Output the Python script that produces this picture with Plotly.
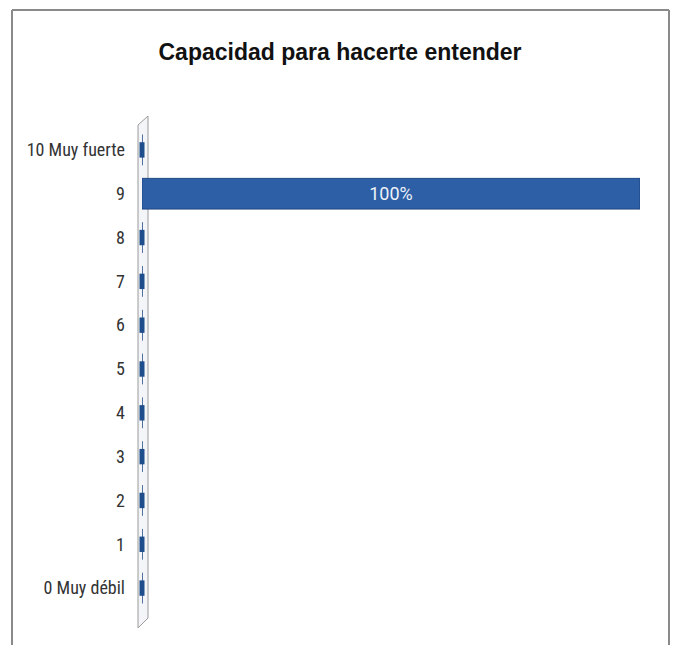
import plotly.graph_objects as go

categories = ["0 Muy débil", "1", "2", "3", "4", "5", "6", "7", "8", "9", "10 Muy fuerte"]
shares = [0, 0, 0, 0, 0, 0, 0, 0, 0, 1.0, 0]
title_text = "Capacidad para hacerte entender"

W, H = 675, 645
L, R, T, B = 142, 35, 128, 35
pw, ph = W - L - R, H - T - B


def px(x):
    return (x - L) / pw


def py(y):
    return (H - B - y) / ph


bar_color = "#2c5fa6"
labels = [f"{v:.0%}" if v > 0 else "" for v in shares]

fig = go.Figure()
fig.add_trace(go.Bar(
    x=shares, y=categories, orientation="h",
    marker=dict(color=bar_color, line=dict(color="#1d4682", width=1)),
    width=0.7,
    text=labels, textposition="inside", insidetextanchor="middle",
    textfont=dict(color="#eef2f8", size=18, family="Liberation Sans Narrow, Roboto, sans-serif"),
    hoverinfo="x+y",
))
zero_cats = [c for c, v in zip(categories, shares) if v == 0]
zero_vals = [v for v in shares if v == 0]
fig.add_trace(go.Scatter(
    x=zero_vals, y=zero_cats, mode="markers",
    marker=dict(symbol="line-ns", size=11, line=dict(color="#1f4e8c", width=5)),
    cliponaxis=False, hoverinfo="skip",
))

shapes = [
    # outer frame (left, top, right)
    dict(type="line", xref="paper", yref="paper", x0=px(12), x1=px(12), y0=py(10), y1=py(645),
         line=dict(color="#8a8a8a", width=2)),
    dict(type="line", xref="paper", yref="paper", x0=px(12), x1=px(669), y0=py(10), y1=py(10),
         line=dict(color="#8a8a8a", width=2)),
    dict(type="line", xref="paper", yref="paper", x0=px(669), x1=px(669), y0=py(10), y1=py(645),
         line=dict(color="#8a8a8a", width=2)),
    # 3D wall next to category axis
    dict(type="path", xref="paper", yref="paper",
         path=f"M {px(138)},{py(628)} L {px(138)},{py(125)} L {px(148)},{py(116)} L {px(148)},{py(618)} Z",
         fillcolor="rgba(235,238,243,0.6)", line=dict(color="#9a9a9a", width=1), layer="below"),
]

fig.update_layout(
    width=W, height=H,
    margin=dict(l=L, r=R, t=T, b=B),
    paper_bgcolor="white", plot_bgcolor="white",
    showlegend=False,
    bargap=0.3,
    title=dict(text=f"<b>{title_text}</b>", x=px(340), xref="paper", xanchor="center",
               y=1 - 52 / H, yanchor="middle",
               font=dict(family="Liberation Sans, Arial, sans-serif", size=23, color="#111111")),
    xaxis=dict(range=[0, 1.0], visible=False, fixedrange=True),
    yaxis=dict(categoryorder="array", categoryarray=categories, range=[-0.5, len(categories) - 0.5],
               showgrid=False, zeroline=False, fixedrange=True,
               showline=False, ticks="", ticklabelstandoff=16,
               tickfont=dict(family="Liberation Sans Narrow, Roboto Condensed, Roboto, sans-serif",
                             size=18, color="#333333")),
    shapes=shapes,
)

fig.write_html("out.html", config={"displayModeBar": False},
               post_script="document.body.style.margin='0';")
